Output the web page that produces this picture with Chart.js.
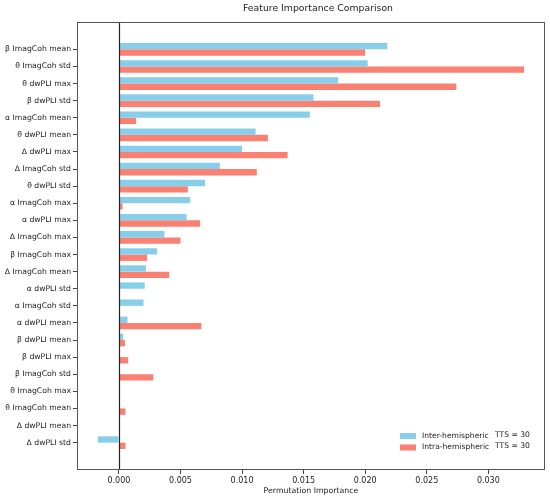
<!DOCTYPE html>
<html>
<head>
<meta charset="utf-8">
<script src="https://cdn.jsdelivr.net/npm/chart.js@4/dist/chart.umd.min.js"></script>
<style>
  html, body { margin: 0; padding: 0; background: #fff; }
  #wrap { width: 550px; height: 499px; }
</style>
</head>
<body>
<div id="wrap"><canvas id="chart" width="550" height="499"></canvas></div>
<script>
const features = [
    'β ImagCoh mean', 'θ ImagCoh std', 'θ dwPLI max', 'β dwPLI std', 'α ImagCoh mean',
    'θ dwPLI mean', 'Δ dwPLI max', 'Δ ImagCoh std', 'θ dwPLI std', 'α ImagCoh max',
    'α dwPLI max', 'Δ ImagCoh max', 'β ImagCoh max', 'Δ ImagCoh mean', 'α dwPLI std',
    'α ImagCoh std', 'α dwPLI mean', 'β dwPLI mean', 'β dwPLI max', 'β ImagCoh std',
    'θ ImagCoh max', 'θ ImagCoh mean', 'Δ dwPLI mean', 'Δ dwPLI std'
];

const interValues = [
    0.0218, 0.0202, 0.0178, 0.0158, 0.0155,
    0.0111, 0.0100, 0.0082, 0.0070, 0.0058,
    0.0055, 0.0037, 0.0031, 0.0022, 0.0021,
    0.0020, 0.0007, 0.00035, 0, 0,
    0, 0, 0, -0.0017
];
const intraValues = [
    0.0200, 0.0329, 0.0274, 0.0212, 0.0014,
    0.0121, 0.0137, 0.0112, 0.0056, 0.0003,
    0.0066, 0.0050, 0.0023, 0.0041, 0,
    0, 0.0067, 0.0005, 0.00076, 0.0028,
    0, 0.00054, 0, 0.00054
];

const seriesNames = ['Inter-hemispheric', 'Intra-hemispheric'];
const seriesColors = ['#87CEEB', '#FA8072'];
const legendNotes = ['TTS = 30', 'TTS = 30'];
const xMin = -0.0034, xMax = 0.0346, xStep = 0.005;

const font = 'DejaVu Sans';
const edgeMargin = 1.6; // matplotlib-style gap before first / after last bar group

// frame, zero line, title and legend like the original
const extras = {
    id: 'extras',
    afterDatasetsDraw(chart) {
        const { ctx, chartArea: a, scales } = chart;
        ctx.save();
        const x0 = Math.round(scales.x.getPixelForValue(0)) + 0.5;
        ctx.strokeStyle = '#222';
        ctx.lineWidth = 1.2;
        ctx.beginPath();
        ctx.moveTo(x0, a.top);
        ctx.lineTo(x0, a.bottom);
        ctx.stroke();

        ctx.strokeStyle = '#555';
        ctx.lineWidth = 1;
        ctx.strokeRect(a.left + 0.5, a.top + 0.5, a.right - a.left - 1, a.bottom - a.top - 1);

        ctx.fillStyle = '#222';
        ctx.font = '9.3px "' + font + '"';
        ctx.textAlign = 'center';
        ctx.textBaseline = 'middle';
        ctx.fillText('Feature Importance Comparison', (a.left + a.right) / 2 + 7, 9);

        ctx.font = '7.6px "' + font + '"';
        ctx.textAlign = 'left';
        seriesNames.forEach((name, i) => {
            const y = 436 + i * 11.5;
            ctx.fillStyle = seriesColors[i];
            ctx.fillRect(400, y - 3, 16, 6);
            ctx.fillStyle = '#222';
            ctx.fillText(name, 422, y);
            ctx.fillText(legendNotes[i], 495, y - 1);
        });
        ctx.restore();
    }
};

new Chart(document.getElementById('chart'), {
    type: 'bar',
    data: {
        labels: features,
        datasets: [
            { label: seriesNames[0], data: interValues, backgroundColor: seriesColors[0] },
            { label: seriesNames[1], data: intraValues, backgroundColor: seriesColors[1] }
        ]
    },
    options: {
        indexAxis: 'y',
        responsive: false,
        animation: false,
        layout: { padding: { top: 22, right: 5, left: 0, bottom: 0 } },
        categoryPercentage: 0.74,
        barPercentage: 1.0,
        plugins: {
            legend: { display: false },
            title: { display: false },
            tooltip: { enabled: false }
        },
        scales: {
            x: {
                min: xMin,
                max: xMax,
                afterFit: s => { s.height = 29; },
                grid: { drawOnChartArea: false, drawTicks: true, tickLength: 4, color: '#444' },
                border: { display: false },
                ticks: {
                    stepSize: xStep,
                    includeBounds: false,
                    padding: 2,
                    color: '#222',
                    font: { family: font, size: 8 },
                    maxRotation: 0,
                    callback: v => (Math.abs(v) < 1e-9 ? 0 : v).toFixed(3)
                },
                title: {
                    display: true,
                    text: 'Permutation Importance',
                    color: '#222',
                    font: { family: font, size: 7.8 },
                    padding: { top: 0, bottom: 3 }
                }
            },
            y: {
                afterFit: s => { s.width = 77; },
                afterBuildTicks: s => {
                    const n = s.getLabels().length;
                    s._startValue = -edgeMargin;
                    s._valueRange = n - 1 + 2 * edgeMargin;
                },
                grid: { drawOnChartArea: false, drawTicks: true, tickLength: 4, color: '#444', offset: false },
                border: { display: false },
                ticks: {
                    autoSkip: false,
                    padding: 2,
                    color: '#222',
                    font: { family: font, size: 7.7 }
                }
            }
        }
    },
    plugins: [extras]
});
</script>
</body>
</html>
